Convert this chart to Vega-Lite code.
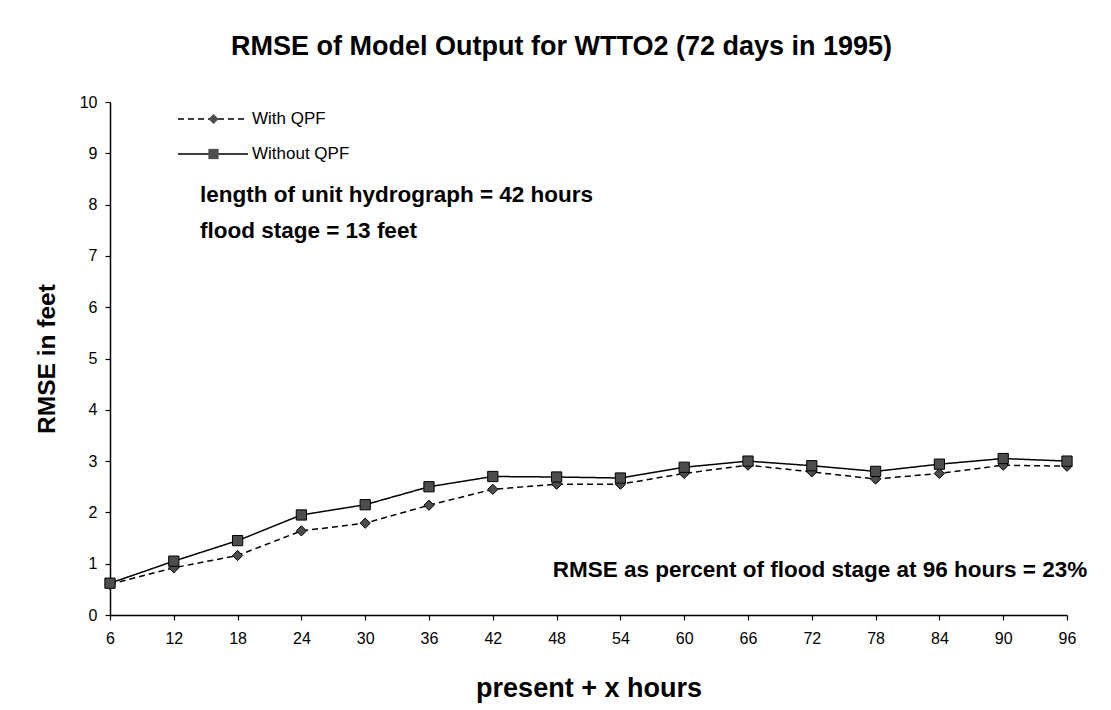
{
  "$schema": "https://vega.github.io/schema/vega-lite/v6.json",
  "width": 957,
  "height": 513,
  "autosize": "none",
  "padding": {"left": 110, "top": 102, "right": 44, "bottom": 95},
  "background": "white",
  "config": {
    "view": {"stroke": null},
    "font": "Liberation Sans",
    "axis": {"grid": false, "domainColor": "black", "tickColor": "black", "labelColor": "black", "titleColor": "black", "domainWidth": 1.5, "tickWidth": 1.2}
  },
  "title": {
    "text": "RMSE of Model Output for WTTO2 (72 days in 1995)",
    "font": "Liberation Sans",
    "fontSize": 27,
    "fontWeight": "bold",
    "color": "black",
    "anchor": "middle",
    "frame": "group",
    "baseline": "alphabetic",
    "offset": 12,
    "dx": -27
  },
  "layer": [
    {
      "data": {"name": "rmse", "values": [
        {"hours": 6, "series": "With QPF", "rmse": 0.6},
        {"hours": 12, "series": "With QPF", "rmse": 0.92},
        {"hours": 18, "series": "With QPF", "rmse": 1.16},
        {"hours": 24, "series": "With QPF", "rmse": 1.64},
        {"hours": 30, "series": "With QPF", "rmse": 1.79},
        {"hours": 36, "series": "With QPF", "rmse": 2.14},
        {"hours": 42, "series": "With QPF", "rmse": 2.45},
        {"hours": 48, "series": "With QPF", "rmse": 2.55},
        {"hours": 54, "series": "With QPF", "rmse": 2.55},
        {"hours": 60, "series": "With QPF", "rmse": 2.76},
        {"hours": 66, "series": "With QPF", "rmse": 2.92},
        {"hours": 72, "series": "With QPF", "rmse": 2.79},
        {"hours": 78, "series": "With QPF", "rmse": 2.65},
        {"hours": 84, "series": "With QPF", "rmse": 2.76},
        {"hours": 90, "series": "With QPF", "rmse": 2.92},
        {"hours": 96, "series": "With QPF", "rmse": 2.9},
        {"hours": 6, "series": "Without QPF", "rmse": 0.62},
        {"hours": 12, "series": "Without QPF", "rmse": 1.05},
        {"hours": 18, "series": "Without QPF", "rmse": 1.45},
        {"hours": 24, "series": "Without QPF", "rmse": 1.95},
        {"hours": 30, "series": "Without QPF", "rmse": 2.15},
        {"hours": 36, "series": "Without QPF", "rmse": 2.5},
        {"hours": 42, "series": "Without QPF", "rmse": 2.7},
        {"hours": 48, "series": "Without QPF", "rmse": 2.69},
        {"hours": 54, "series": "Without QPF", "rmse": 2.67},
        {"hours": 60, "series": "Without QPF", "rmse": 2.88},
        {"hours": 66, "series": "Without QPF", "rmse": 3.0},
        {"hours": 72, "series": "Without QPF", "rmse": 2.91},
        {"hours": 78, "series": "Without QPF", "rmse": 2.8},
        {"hours": 84, "series": "Without QPF", "rmse": 2.94},
        {"hours": 90, "series": "Without QPF", "rmse": 3.05},
        {"hours": 96, "series": "Without QPF", "rmse": 3.0}
      ]},
      "layer": [
        {
          "mark": {"type": "line", "color": "black", "strokeWidth": 1.5},
          "encoding": {
            "x": {
              "field": "hours", "type": "quantitative",
              "scale": {"domain": [6, 96], "nice": false, "zero": false},
              "axis": {"values": [6, 12, 18, 24, 30, 36, 42, 48, 54, 60, 66, 72, 78, 84, 90, 96], "title": "present + x hours", "titleFontSize": 27, "titleFontWeight": "bold", "titlePadding": 29, "labelFontSize": 16, "tickSize": 5, "labelPadding": 10, "labelFlush": false}
            },
            "y": {
              "field": "rmse", "type": "quantitative",
              "scale": {"domain": [0, 10], "nice": false},
              "axis": {"values": [0, 1, 2, 3, 4, 5, 6, 7, 8, 9, 10], "title": "RMSE in feet", "titleFontSize": 24.5, "titleFontWeight": "bold", "titlePadding": 20, "labelFontSize": 16, "tickSize": 5, "labelPadding": 8}
            },
            "strokeDash": {
              "field": "series", "type": "nominal",
              "scale": {"range": [[6, 4], [1, 0]]},
              "legend": {"orient": "none", "legendX": 67, "legendY": 9, "title": null, "padding": 0, "symbolType": "stroke", "symbolSize": 4900, "symbolStrokeColor": "black", "symbolStrokeWidth": 1.5, "clipHeight": 16, "rowPadding": 18, "labelFontSize": 17, "labelOffset": 3, "labelColor": "black", "labelFont": "Liberation Sans"}
            }
          }
        },
        {
          "mark": {"type": "point", "filled": true, "fill": "#4d4d4d", "stroke": "black", "strokeWidth": 1, "size": 105, "opacity": 1},
          "encoding": {
            "x": {"field": "hours", "type": "quantitative"},
            "y": {"field": "rmse", "type": "quantitative"},
            "shape": {
              "field": "series", "type": "nominal",
              "scale": {"domain": ["With QPF", "Without QPF"], "range": ["diamond", "square"]},
              "legend": {"orient": "none", "legendX": 95, "legendY": 9, "title": null, "padding": 0, "symbolSize": 105, "symbolFillColor": "#4d4d4d", "symbolStrokeColor": "black", "symbolStrokeWidth": 1, "clipHeight": 16, "rowPadding": 18, "labelExpr": "''", "labelFontSize": 17}
            }
          }
        }
      ]
    },
    {
      "data": {"values": [{"note": "length of unit hydrograph = 42 hours"}]},
      "mark": {"type": "text", "align": "left", "baseline": "alphabetic", "fontSize": 22.5, "fontWeight": "bold", "fill": "black"},
      "encoding": {"x": {"datum": 14.46, "type": "quantitative"}, "y": {"datum": 8.05, "type": "quantitative"}, "text": {"field": "note", "type": "nominal"}}
    },
    {
      "data": {"values": [{"note": "flood stage = 13 feet"}]},
      "mark": {"type": "text", "align": "left", "baseline": "alphabetic", "fontSize": 22.5, "fontWeight": "bold", "fill": "black"},
      "encoding": {"x": {"datum": 14.46, "type": "quantitative"}, "y": {"datum": 7.35, "type": "quantitative"}, "text": {"field": "note", "type": "nominal"}}
    },
    {
      "data": {"values": [{"note": "RMSE as percent of flood stage at 96 hours = 23%"}]},
      "mark": {"type": "text", "align": "right", "baseline": "alphabetic", "fontSize": 22.5, "fontWeight": "bold", "fill": "black"},
      "encoding": {"x": {"datum": 97.9, "type": "quantitative"}, "y": {"datum": 0.74, "type": "quantitative"}, "text": {"field": "note", "type": "nominal"}}
    }
  ]
}
